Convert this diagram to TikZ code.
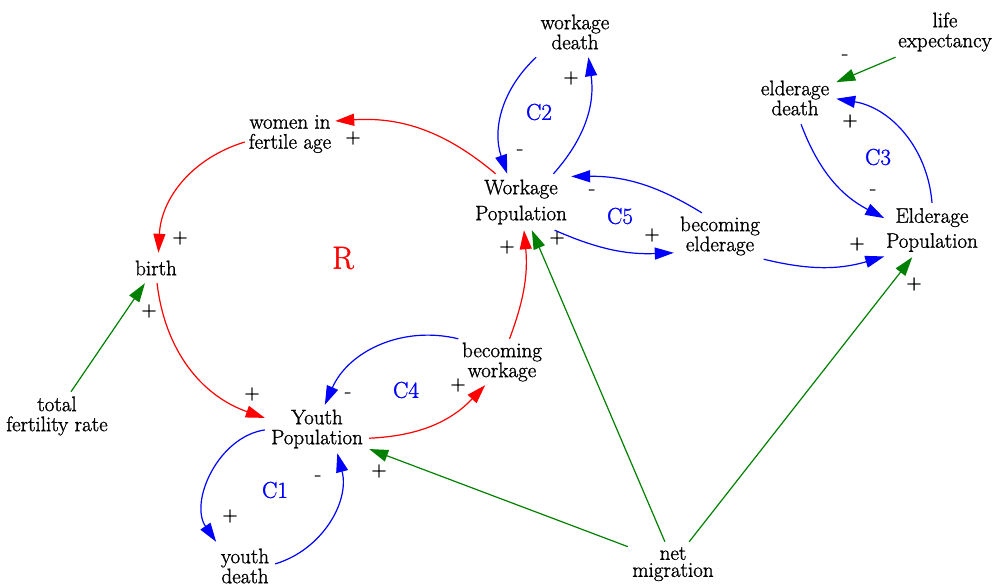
\documentclass[tikz,border=0pt]{standalone}
\usepackage{fontspec}
\setmainfont{Latin Modern Roman}
\newfontfamily\diagfont{Latin Modern Roman}[FakeBold=1.2]
\usetikzlibrary{arrows.meta}
\definecolor{posred}{RGB}{255,0,0}
\definecolor{balblue}{RGB}{0,0,255}
\definecolor{exogreen}{RGB}{0,128,0}
\begin{document}
\begin{tikzpicture}[x=1pt,y=1pt,
  var/.style 2 args={inner sep=0pt, align=center,
    minimum width=#1, minimum height=#2,
    font=\diagfont\fontsize{21}{20}\selectfont},
  link/.style={line width=1.2pt, -{Triangle[length=19pt,width=12pt]}},
  red link/.style={link, draw=posred},
  blue link/.style={link, draw=balblue},
  green link/.style={link, draw=exogreen},
  pol/.style={inner sep=0pt, font=\diagfont\fontsize{21}{21}\selectfont},
  loop/.style={inner sep=0pt, text=balblue, font=\diagfont\fontsize{23}{23}\selectfont}]
\useasboundingbox (0,0) rectangle (995,-586);

% variables
\node[var={90pt}{40pt}]  (wf)  at (290,-134) {women in\\fertile age};
\node[var={44pt}{30pt}]  (bi)  at (156,-268) {birth};
\node[var={104pt}{48pt}] (tfr) at (57,-416)  {total\\fertility rate};
\node[var={104pt}{48pt}] (yp)  at (317,-429) {Youth\\Population};
\node[var={60pt}{48pt}]  (yd)  at (245,-566) {youth\\death};
\node[var={94pt}{46pt}]  (bw)  at (502,-362) {becoming\\workage};
\node[var={100pt}{56pt}] (wp)  at (521,-202) {Workage\\[6pt]Population};
\node[var={80pt}{50pt}]  (wd)  at (575,-32)  {workage\\death};
\node[var={92pt}{46pt}]  (be)  at (720,-236) {becoming\\elderage};
\node[var={95pt}{54pt}]  (ep)  at (932,-230) {Elderage\\[5pt]Population};
\node[var={82pt}{52pt}]  (ed)  at (795,-98)  {elderage\\death};
\node[var={100pt}{50pt}] (le)  at (945,-32)  {life\\expectancy};
\node[var={90pt}{44pt}]  (nm)  at (673,-564) {net\\[-3pt]migration};

% reinforcing loop
\draw[red link] (wp.132) to[bend right=22] (wf.16);
\draw[red link] (wf.190) to[bend right=35] (bi.81);
\draw[red link] (bi.-86) to[bend right=32] (yp.168);
\draw[red link] (yp.-10) to[bend right=22] (bw.234);
\draw[red link] (bw.72)  to[bend right=13] (wp.-84);

% balancing loops
\draw[blue link] (bw.152) to[bend right=40] (yp.72);
\draw[blue link] (yp.181) to[bend right=58] (yd.140);
\draw[blue link] (yd.4)   to[bend right=44] (yp.-50);
\draw[blue link] (wp.41)  to[bend right=25] (wd.-62);
\draw[blue link] (wd.213) to[bend right=33] (wp.116);
\draw[blue link] (be.128) to[bend right=16] (wp.27);
\draw[blue link] (wp.-40) to[bend right=13] (be.200);
\draw[blue link] (be.-28) to[bend right=15] (ep.209);
\draw[blue link] (ep.90)  to[bend right=38] (ed.-1);
\draw[blue link] (ed.-77) to[bend right=21] (ep.166);

% external inputs
\draw[green link] (tfr.60) -- (bi.234);
\draw[green link] (nm.159) -- (yp.-21);
\draw[green link] (nm.110) -- (wp.-69);
\draw[green link] (nm.54)  -- (ep.234);
\draw[green link] (le.207) -- (ed.21);

% polarities
\node[pol] (p1)  at (353,-138) {+};
\node[pol] (p2)  at (180,-238) {+};
\node[pol] (p3)  at (149,-311) {+};
\node[pol] (p4)  at (252,-394) {+};
\node[pol] (p5)  at (458,-385) {+};
\node[pol] (p6)  at (230,-516) {+};
\node[pol] (p7)  at (379,-471) {+};
\node[pol] (p8)  at (507,-247) {+};
\node[pol] (p9)  at (557,-238) {+};
\node[pol] (p10) at (652,-235) {+};
\node[pol] (p11) at (571,-78)  {+};
\node[pol] (p12) at (857,-244) {+};
\node[pol] (p13) at (850,-121) {+};
\node[pol] (p14) at (914,-284) {+};
\node[pol] (m1)  at (348,-395) {-};
\node[pol] (m2)  at (318,-478) {-};
\node[pol] (m3)  at (520,-152) {-};
\node[pol] (m4)  at (592,-192) {-};
\node[pol] (m5)  at (873,-192) {-};
\node[pol] (m6)  at (845,-57)  {-};

% loop names
\node[inner sep=0pt, text=posred, font=\diagfont\fontsize{32}{32}\selectfont] (lR) at (343,-258) {R};
\node[loop] (lc1) at (275,-490) {C1};
\node[loop] (lc2) at (539,-112) {C2};
\node[loop] (lc3) at (878,-157) {C3};
\node[loop] (lc4) at (406,-390) {C4};
\node[loop] (lc5) at (620,-216) {C5};
\end{tikzpicture}
\end{document}
